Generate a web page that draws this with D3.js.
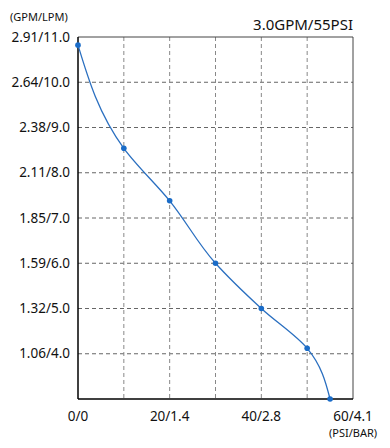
<!DOCTYPE html>
<html><head><meta charset="utf-8">
<script src="https://cdn.jsdelivr.net/npm/d3@7/dist/d3.min.js"></script>
<style>body{margin:0;background:#fff}svg{display:block}text{font-family:"Noto Sans",sans-serif;fill:#111}</style>
</head><body>
<script>
// data
const psi = [0, 10, 20, 30, 40, 50, 55];
const lpm = [10.82, 8.54, 7.38, 6.0, 5.0, 4.12, 3.0];
const yTickValues = [4, 5, 6, 7, 8, 9, 10, 11];
const yTickLabels = ["1.06/4.0", "1.32/5.0", "1.59/6.0", "1.85/7.0", "2.11/8.0", "2.38/9.0", "2.64/10.0", "2.91/11.0"];
const xTickValues = [0, 20, 40, 60];
const xTickLabels = ["0/0", "20/1.4", "40/2.8", "60/4.1"];
const xGridValues = [10, 20, 30, 40, 50];
const title = "3.0GPM/55PSI";

const W = 390, H = 448;
const m = {l: 78, r: 37, t: 37, b: 49};
const svg = d3.select("body").append("svg").attr("width", W).attr("height", H);
const x = d3.scaleLinear().domain([0, 60]).range([m.l, W - m.r]);
const y = d3.scaleLinear().domain([3, 11]).range([H - m.b, m.t]);

// grid
svg.append("g").selectAll("line").data(yTickValues.filter(v => v < 11)).join("line")
  .attr("x1", m.l).attr("x2", W - m.r).attr("y1", d => y(d)).attr("y2", d => y(d))
  .attr("stroke", "#666").attr("stroke-dasharray", "4,3");
svg.append("g").selectAll("line").data(xGridValues).join("line")
  .attr("x1", d => x(d)).attr("x2", d => x(d)).attr("y1", m.t).attr("y2", H - m.b)
  .attr("stroke", "#888").attr("stroke-dasharray", "4,3");

// frame
svg.append("line").attr("x1", m.l).attr("x2", W - m.r).attr("y1", m.t).attr("y2", m.t).attr("stroke", "#444");
svg.append("line").attr("x1", W - m.r).attr("x2", W - m.r).attr("y1", m.t).attr("y2", H - m.b).attr("stroke", "#444");
svg.append("line").attr("x1", m.l).attr("x2", m.l).attr("y1", m.t).attr("y2", H - m.b).attr("stroke", "#000").attr("stroke-width", 1.5);
svg.append("line").attr("x1", m.l).attr("x2", W - m.r).attr("y1", H - m.b).attr("y2", H - m.b).attr("stroke", "#000").attr("stroke-width", 1.5);

// axes labels
svg.append("g").selectAll("text").data(yTickValues).join("text")
  .attr("x", m.l - 8).attr("y", d => y(d)).attr("dy", "0.35em").attr("text-anchor", "end")
  .attr("font-size", 13.5).text((d, i) => yTickLabels[i]);
svg.append("g").selectAll("text").data(xTickValues).join("text")
  .attr("x", d => x(d)).attr("y", H - m.b + 22).attr("text-anchor", "middle")
  .attr("font-size", 13.5).text((d, i) => xTickLabels[i]);
svg.append("text").attr("x", 10).attr("y", 21).attr("font-size", 11).text("(GPM/LPM)");
svg.append("text").attr("x", 353).attr("y", 437).attr("text-anchor", "middle").attr("font-size", 11).text("(PSI/BAR)");
svg.append("text").attr("x", W - m.r).attr("y", 30).attr("text-anchor", "end").attr("font-size", 15).text(title);

// line
const pts = psi.map((p, i) => [p, lpm[i]]);
svg.append("path").datum(pts)
  .attr("d", d3.line().x(d => x(d[0])).y(d => y(d[1])).curve(d3.curveMonotoneY))
  .attr("fill", "none").attr("stroke", "#2a6fc0").attr("stroke-width", 1.3);
svg.append("g").selectAll("circle").data(pts).join("circle")
  .attr("cx", d => x(d[0])).attr("cy", d => y(d[1])).attr("r", 2.8).attr("fill", "#1a6cc8");
</script>
</body></html>
